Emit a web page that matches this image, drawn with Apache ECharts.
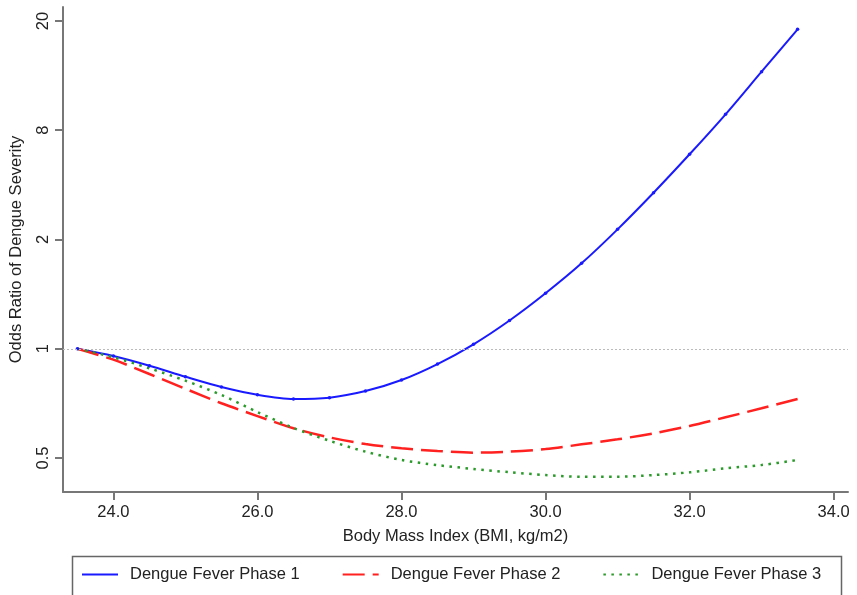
<!DOCTYPE html>
<html>
<head>
<meta charset="utf-8">
<script src="https://cdn.jsdelivr.net/npm/echarts@6/dist/echarts.min.js"></script>
<style>html,body{margin:0;padding:0;background:#fff}#c{width:857px;height:595px}</style>
</head>
<body>
<div id="c"></div>
<script>
// BMI values (x)
const bmi = [23.5, 24.0, 24.5, 25.0, 25.5, 26.0, 26.5, 27.0, 27.5, 28.0, 28.5, 29.0, 29.5, 30.0, 30.5, 31.0, 31.5, 32.0, 32.5, 33.0, 33.5];
// Odds ratio positions on the chart's y scale (0 = OR 1, one unit per tick step)
const phase1 = [0, -0.066, -0.155, -0.256, -0.350, -0.421, -0.460, -0.448, -0.387, -0.286, -0.140, 0.041, 0.259, 0.508, 0.782, 1.093, 1.428, 1.780, 2.146, 2.536, 2.924];
const phase2 = [0, -0.100, -0.231, -0.366, -0.499, -0.616, -0.728, -0.811, -0.872, -0.911, -0.936, -0.951, -0.942, -0.918, -0.875, -0.829, -0.774, -0.707, -0.627, -0.545, -0.460];
const phase3 = [0, -0.078, -0.179, -0.292, -0.423, -0.579, -0.725, -0.842, -0.942, -1.018, -1.065, -1.100, -1.130, -1.156, -1.171, -1.171, -1.156, -1.131, -1.094, -1.064, -1.018];
// Axis ticks
const xTicks = [24, 26, 28, 30, 32, 34];
const yTickValues = [-1, 0, 1, 2, 3];
const yTickLabels = ['0.5', '1', '2', '8', '20'];
const seriesNames = ['Dengue Fever Phase 1', 'Dengue Fever Phase 2', 'Dengue Fever Phase 3'];

const font = 'Liberation Sans, Arial, Helvetica, sans-serif';
const pts = arr => bmi.map((x, i) => [x, arr[i]]);
const axisGray = '#777';

const chart = echarts.init(document.getElementById('c'));
chart.setOption({
  animation: false,
  backgroundColor: '#fff',
  textStyle: { fontFamily: font },
  grid: { left: 63, right: 9, top: 7, bottom: 103 },
  xAxis: {
    type: 'value', min: 23.3, max: 34.2,
    name: 'Body Mass Index (BMI, kg/m2)', nameLocation: 'middle', nameGap: 36,
    nameTextStyle: { fontSize: 16.5, color: '#222', fontFamily: font },
    axisLine: { show: true, onZero: false, lineStyle: { color: axisGray, width: 2 } },
    axisTick: { show: true, length: 8, customValues: xTicks, lineStyle: { color: axisGray, width: 2 } },
    axisLabel: { customValues: xTicks, margin: 12, fontSize: 16.5, color: '#222', fontFamily: font,
      formatter: v => Number(v).toFixed(1) },
    splitLine: { show: false }
  },
  yAxis: {
    type: 'value', min: -1.311, max: 3.128,
    name: 'Odds Ratio of Dengue Severity', nameLocation: 'middle', nameGap: 38,
    nameTextStyle: { fontSize: 16.5, color: '#222', fontFamily: font },
    axisLine: { show: true, onZero: false, lineStyle: { color: axisGray, width: 2 } },
    axisTick: { show: true, length: 8, customValues: yTickValues, lineStyle: { color: axisGray, width: 2 } },
    axisLabel: { customValues: yTickValues, rotate: 90, margin: 11, fontSize: 16.5, color: '#222', fontFamily: font,
      formatter: v => { const i = yTickValues.indexOf(Math.round(v)); return i >= 0 ? yTickLabels[i] : ''; } },
    splitLine: { show: false }
  },
  legend: {
    left: 81, top: 566, padding: 0,
    itemWidth: 36, itemHeight: 20, itemGap: 42,
    itemStyle: { opacity: 0 },
    textStyle: { fontSize: 16.5, color: '#222', fontFamily: font, padding: [0, 0, 0, 7] },
    data: seriesNames
  },
  graphic: [{
    type: 'rect', left: 70, top: 554,
    shape: { width: 769, height: 40 },
    style: { fill: 'none', stroke: '#666', lineWidth: 1.5 }
  }],
  series: [
    {
      name: seriesNames[0], type: 'line', data: pts(phase1), smooth: 0.3,
      symbol: 'circle', symbolSize: 3.5, showSymbol: true,
      itemStyle: { color: '#1a1aff' },
      lineStyle: { color: '#1a1aff', width: 2 },
      markLine: {
        silent: true, symbol: 'none', label: { show: false },
        lineStyle: { color: '#bbb', type: [2, 2], width: 1 },
        data: [{ yAxis: 0 }]
      }
    },
    {
      name: seriesNames[1], type: 'line', data: pts(phase2), smooth: 0.3,
      showSymbol: false, symbol: 'none',
      itemStyle: { color: '#ff2020' },
      lineStyle: { color: '#ff2020', width: 2.5, type: [22, 8] }
    },
    {
      name: seriesNames[2], type: 'line', data: pts(phase3), smooth: 0.3,
      showSymbol: false, symbol: 'none',
      itemStyle: { color: '#2a9a2a' },
      lineStyle: { color: '#2a9a2a', width: 2.5, type: [2.5, 5.5] }
    }
  ]
});
</script>
</body>
</html>
